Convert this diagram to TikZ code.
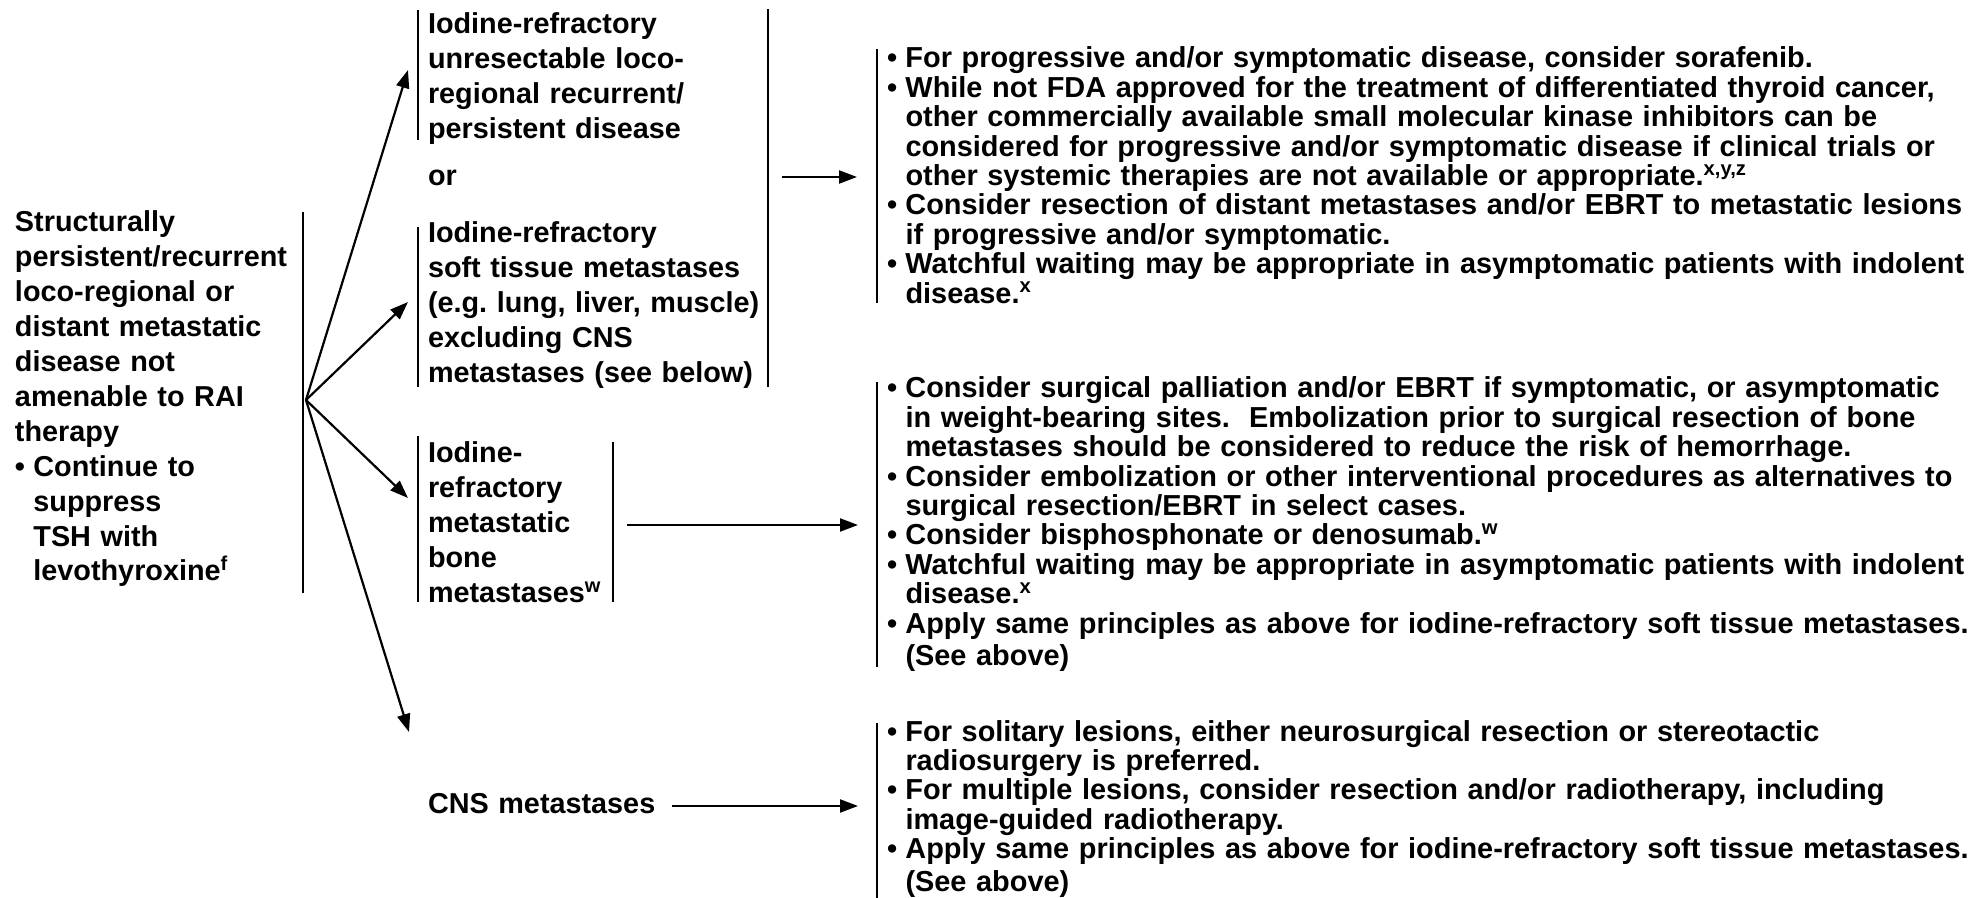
\documentclass[tikz,border=0pt]{standalone}
\usepackage{fontspec}
\setmainfont{Liberation Sans}
\usetikzlibrary{arrows.meta}
% bullet box and hanging indent for the list lines
\newcommand\bul{\makebox[0.64em][l]{•}}
\newcommand\ind{\hspace*{0.64em}}
\frenchspacing
\begin{document}
\begin{tikzpicture}[x=0.5pt,y=-0.5pt,
  every node/.style={inner sep=0pt, outer sep=0pt},
  lefttext/.style={text width=190pt, align=left, anchor=base west,
    font=\fontsize{14.4}{17.45}\selectfont\bfseries},
  righttext/.style={text width=575pt, align=left, anchor=base west,
    font=\fontsize{14.45}{14.7}\selectfont\bfseries},
  bar/.style={line width=1pt},
  arr/.style={line width=1.1pt, -{Triangle[length=9pt,width=6.5pt]}}]
\useasboundingbox (0,0) rectangle (1988,898);

% root condition
\node[lefttext] (root) at (15,232) {Structurally\\persistent/recurrent\\loco-regional or\\distant metastatic\\disease not\\amenable to RAI\\therapy\\\bul Continue to\\\ind suppress\\\ind TSH with\\\ind levothyroxine\textsuperscript{f}};
\draw[bar] (303,212) -- (303,593);
\coordinate (fork) at (306,400);

% second column
\node[lefttext] (locoreg) at (428,34) {Iodine-refractory\\unresectable loco-\\regional recurrent/\\persistent disease};
\node[lefttext] (ortext) at (428,186) {or};
\node[lefttext] (soft) at (428,243) {Iodine-refractory\\soft tissue metastases\\(e.g. lung, liver, muscle)\\excluding CNS\\metastases (see below)};
\node[lefttext] (bone) at (428,463) {Iodine-\\refractory\\metastatic\\bone\\metastases\textsuperscript{w}};
\node[lefttext] (cns) at (428,813) {CNS metastases};

\draw[bar] (418,10) -- (418,140);
\draw[bar] (418,227) -- (418,387);
\draw[bar] (768,9) -- (768,387);
\draw[bar] (418,436) -- (418,602);
\draw[bar] (613,442) -- (613,602);

\coordinate (t1) at (408,70);
\coordinate (t2) at (408,302);
\coordinate (t3) at (408,498);
\coordinate (t4) at (409,732);
\draw[arr] (fork) -- (t1);
\draw[arr] (fork) -- (t2);
\draw[arr] (fork) -- (t3);
\draw[arr] (fork) -- (t4);

% treatment column
\node[righttext] (treatsoft) at (887,68) {\bul For progressive and/or symptomatic disease, consider sorafenib.\\
\bul While not FDA approved for the treatment of differentiated thyroid cancer,\\
\ind other commercially available small molecular kinase inhibitors can be\\
\ind considered for progressive and/or symptomatic disease if clinical trials or\\
\ind other systemic therapies are not available or appropriate.\textsuperscript{x,y,z}\\
\bul Consider resection of distant metastases and/or EBRT to metastatic lesions\\
\ind if progressive and/or symptomatic.\\
\bul Watchful waiting may be appropriate in asymptomatic patients with indolent\\
\ind disease.\textsuperscript{x}};

\node[righttext] (treatbone) at (887,398) {\bul Consider surgical palliation and/or EBRT if symptomatic, or asymptomatic\\
\ind in weight-bearing sites.\ \ Embolization prior to surgical resection of bone\\
\ind metastases should be considered to reduce the risk of hemorrhage.\\
\bul Consider embolization or other interventional procedures as alternatives to\\
\ind surgical resection/EBRT in select cases.\\
\bul Consider bisphosphonate or denosumab.\textsuperscript{w}\\
\bul Watchful waiting may be appropriate in asymptomatic patients with indolent\\
\ind disease.\textsuperscript{x}\\
\bul Apply same principles as above for iodine-refractory soft tissue metastases.\\[1.5pt]
\ind (See above)};

\node[righttext] (treatcns) at (887,741) {\bul For solitary lesions, either neurosurgical resection or stereotactic\\
\ind radiosurgery is preferred.\\
\bul For multiple lesions, consider resection and/or radiotherapy, including\\
\ind image-guided radiotherapy.\\
\bul Apply same principles as above for iodine-refractory soft tissue metastases.\\[1.5pt]
\ind (See above)};

\draw[bar] (877,49) -- (877,303);
\draw[bar] (877,382) -- (877,667);
\draw[bar] (877,723) -- (877,898);

\coordinate (a1s) at (782,177);
\coordinate (a1e) at (857,177);
\coordinate (a2s) at (627,525);
\coordinate (a2e) at (858,525);
\coordinate (a3s) at (672,806);
\coordinate (a3e) at (858,806);
\draw[arr] (a1s) -- (a1e);
\draw[arr] (a2s) -- (a2e);
\draw[arr] (a3s) -- (a3e);
\end{tikzpicture}
\end{document}
